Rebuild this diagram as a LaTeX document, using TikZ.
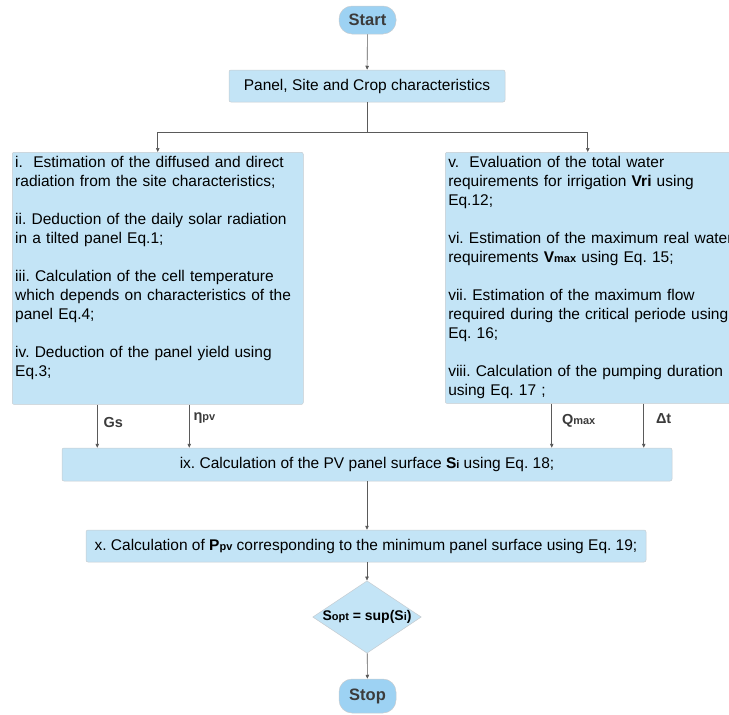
\documentclass[tikz,border=0pt]{standalone}
\usepackage{fontspec}
\setmainfont{Liberation Sans}
\frenchspacing
\usetikzlibrary{arrows.meta}
\usetikzlibrary{shapes.geometric}
\definecolor{boxblue}{HTML}{C3E4F6}
\definecolor{termblue}{HTML}{9DD2F3}
\definecolor{edgegray}{HTML}{C6CCD0}
\definecolor{linegray}{HTML}{5A5A5A}
\definecolor{textgray}{HTML}{3B3B3B}
\newcommand{\smallsub}[1]{{\fontsize{11}{11}\selectfont #1}}

\begin{document}
\begin{tikzpicture}[x=1pt, y=-1pt,
    box/.style={rectangle, rounded corners=2pt, draw=edgegray, line width=0.5pt, fill=boxblue, font=\fontsize{15.5}{19}\selectfont, inner sep=0pt},
    term/.style={rectangle, rounded corners=13pt, draw=edgegray, line width=0.5pt, fill=termblue, font=\fontsize{16.5}{18}\selectfont\bfseries, text=textgray, minimum width=57pt},
    arr/.style={draw=linegray, line width=0.6pt, -{Triangle[length=4pt, width=3.5pt]}},
    lbl/.style={font=\fontsize{14.5}{16}\selectfont\bfseries, text=textgray, inner sep=0pt}]
  \clip (0,0) rectangle (729,715);

  \node[term, minimum height=28pt] (start) at (367.5,20) {Start};
  \node[box, minimum width=276pt, minimum height=32pt] (panel) at (367,86) {Panel, Site and Crop characteristics};

  \node[box, anchor=north west, text width=285pt, align=left, inner xsep=3pt, inner ysep=4pt, text depth=233pt] (leftbox) at (12,152) {%
    i.~~Estimation of the diffused and direct\\
    radiation from the site characteristics;\\[\baselineskip]
    ii. Deduction of the daily solar radiation\\
    in a tilted panel Eq.1;\\[\baselineskip]
    iii. Calculation of the cell temperature\\
    which depends on characteristics of the\\
    panel Eq.4;\\[\baselineskip]
    iv. Deduction of the panel yield using\\
    Eq.3;};
  \node[box, anchor=north west, text width=289pt, align=left, inner xsep=3pt, inner ysep=4pt, text depth=232pt] (rightbox) at (445,152) {%
    v.~~Evaluation of the total water\\
    requirements for irrigation \textbf{Vri} using\\
    Eq.12;\\[\baselineskip]
    vi. Estimation of the maximum real water\\
    requirements \textbf{V\smallsub{max}} using Eq. 15;\\[\baselineskip]
    vii. Estimation of the maximum flow\\
    required during the critical periode using\\
    Eq. 16;\\[\baselineskip]
    viii. Calculation of the pumping duration\\
    using Eq. 17 ;};

  \node[box, minimum width=610pt, minimum height=33pt] (ixbox) at (367,464.5) {ix. Calculation of the PV panel surface \textbf{S\smallsub{i}} using Eq. 18;};
  \node[box, minimum width=560pt, minimum height=32pt] (xbox) at (366,546) {x. Calculation of \textbf{P\smallsub{pv}} corresponding to the minimum panel surface using Eq. 19;};
  \node[diamond, shape aspect=1.5, draw=edgegray, line width=0.5pt, fill=boxblue, minimum width=108pt, minimum height=72pt, inner sep=0pt, font=\fontsize{14}{16}\selectfont\bfseries] (opt) at (367,617) {S\smallsub{opt} = sup(S\smallsub{i})};
  \node[term, minimum height=34pt] (stop) at (367.5,696) {Stop};

  \draw[arr] (start) -- (panel);
  \coordinate (split) at (367,132);
  \draw[draw=linegray, line width=0.6pt] (panel.south) -- (split);
  \draw[arr] (split) -| (leftbox.north);
  \draw[arr] (split) -| ([xshift=-5pt]rightbox.north);

  \draw[arr] ([xshift=-60.5pt]leftbox.south) -- ([xshift=-60.5pt]leftbox.south |- ixbox.north)
    node[lbl, pos=0.41, anchor=west, xshift=6pt] (gs) {Gs};
  \draw[arr] ([xshift=31.5pt]leftbox.south) -- ([xshift=31.5pt]leftbox.south |- ixbox.north)
    node[lbl, pos=0.32, anchor=west, xshift=4pt] (eta) {η\smallsub{pv}};
  \draw[arr] ([xshift=-41pt]rightbox.south) -- ([xshift=-41pt]rightbox.south |- ixbox.north)
    node[lbl, pos=0.38, anchor=west, xshift=10pt] (qmax) {Q\smallsub{max}};
  \draw[arr] ([xshift=51pt]rightbox.south) -- ([xshift=51pt]rightbox.south |- ixbox.north)
    node[lbl, pos=0.33, anchor=west, xshift=12pt] (dt) {Δt};

  \draw[arr] (ixbox) -- (xbox.north -| ixbox.south);
  \draw[arr] (xbox.south -| opt.north) -- (opt);
  \draw[arr] (opt) -- (stop);
\end{tikzpicture}
\end{document}
